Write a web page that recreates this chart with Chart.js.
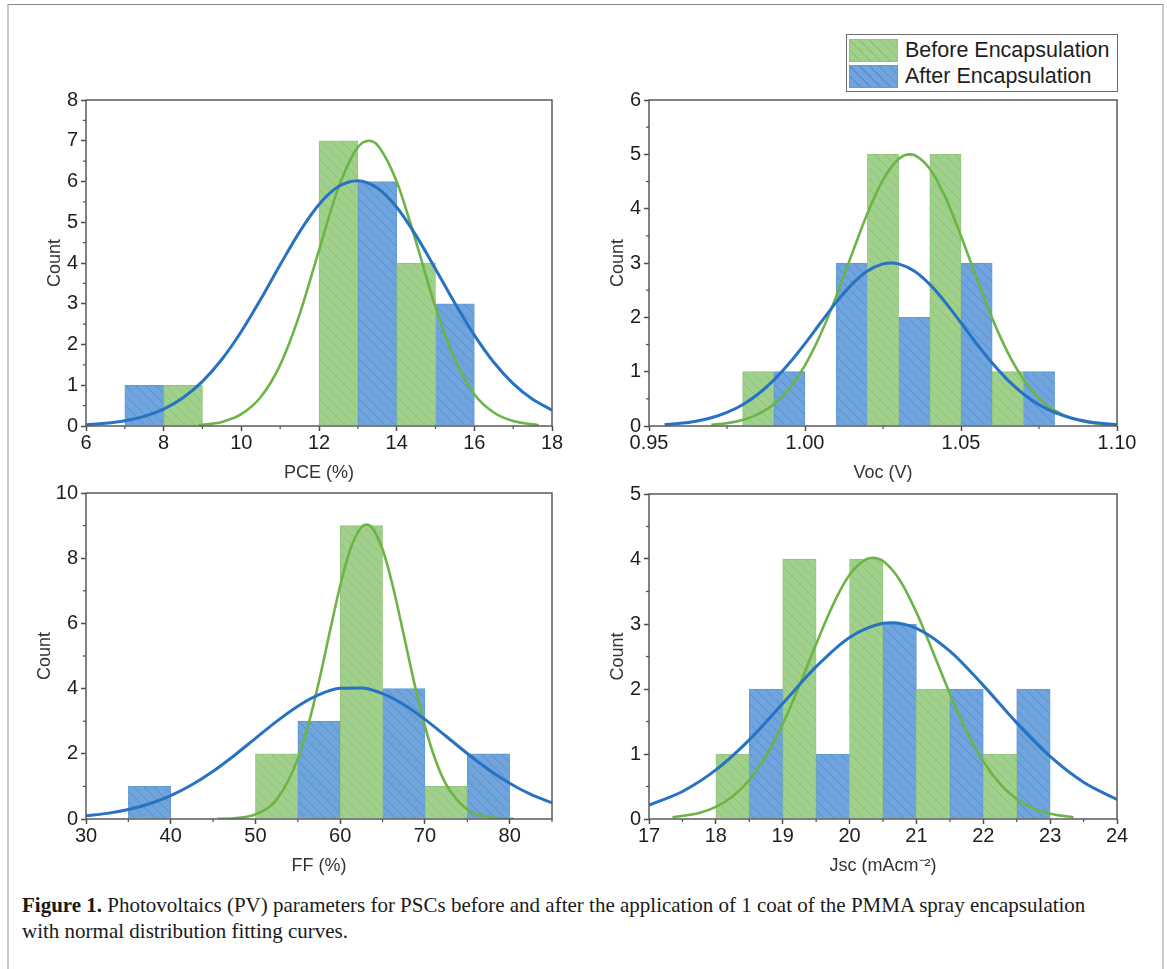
<!DOCTYPE html>
<html>
<head>
<meta charset="utf-8">
<script src="https://cdn.jsdelivr.net/npm/chart.js@4.4.1/dist/chart.umd.min.js"></script>
<style>
  html,body{margin:0;padding:0;background:#fff;}
  body{width:1167px;height:969px;position:relative;overflow:hidden;font-family:"Liberation Sans",Arial,sans-serif;}
  #frame{position:absolute;left:7px;top:4px;width:1153px;height:980px;border-top:1.5px solid #8a8a8a;border-left:2px solid #cacaca;border-right:2px solid #cacaca;}
  canvas{position:absolute;}
  #legend{position:absolute;left:846px;top:34px;width:272px;height:58px;box-sizing:border-box;border:1.5px solid #6e6e6e;background:#fff;}
  .row{position:absolute;left:2px;height:24px;display:flex;align-items:center;white-space:nowrap;font-size:21.5px;color:#1e1e1e;}
  .sw{display:inline-block;width:49px;height:23px;margin-right:7px;box-sizing:border-box;}
  .sw.g{background:repeating-linear-gradient(45deg,#8cc378 0 1px,#a0d08b 1px 7px);border:1px solid #92c67d;}
  .sw.b{background:repeating-linear-gradient(45deg,#5a8fcf 0 1px,#70a4dc 1px 7px);border:1px solid #6399d6;}
  #caption{position:absolute;left:22px;top:892px;font-family:"Liberation Serif","Times New Roman",serif;font-size:21px;line-height:26px;color:#1a1a1a;white-space:nowrap;}
</style>
</head>
<body>
<div id="frame"></div>
<canvas id="c1" width="560" height="404" style="left:20px;top:80px;"></canvas>
<canvas id="c2" width="570" height="404" style="left:590px;top:80px;"></canvas>
<canvas id="c3" width="560" height="404" style="left:20px;top:473px;"></canvas>
<canvas id="c4" width="570" height="403" style="left:590px;top:474px;"></canvas>
<div id="legend">
  <div class="row" style="top:3px;"><span class="sw g"></span><span>Before Encapsulation</span></div>
  <div class="row" style="top:29px;"><span class="sw b"></span><span>After Encapsulation</span></div>
</div>
<div id="caption"><b>Figure 1.</b> Photovoltaics (PV) parameters for PSCs before and after the application of 1 coat of the PMMA spray encapsulation<br>with normal distribution fitting curves.</div>
<script>
// ---------------- DATA ----------------
// PCE (%)
const pceBeforeBins = [8.5, 12.5, 14.5];
const pceBeforeCounts = [1, 7, 4];
const pceAfterBins = [7.5, 13.5, 15.5];
const pceAfterCounts = [1, 6, 3];
const pceBeforeFitX = [8.9, 9.5, 10, 10.5, 11, 11.5, 12, 12.5, 13, 13.28, 13.5, 14, 14.5, 15, 15.5, 16, 16.5, 17, 17.66];
const pceBeforeFitY = [0.02, 0.10, 0.29, 0.71, 1.50, 2.74, 4.31, 5.85, 6.84, 7.0, 6.90, 6.00, 4.51, 2.92, 1.63, 0.78, 0.33, 0.12, 0.02];
const pceAfterFitX = [6, 6.5, 7, 7.5, 8, 8.5, 9, 9.5, 10, 10.5, 11, 11.5, 12, 12.5, 13, 13.5, 14, 14.5, 15, 15.5, 16, 16.5, 17, 17.5, 18];
const pceAfterFitY = [0.031, 0.065, 0.127, 0.237, 0.416, 0.694, 1.094, 1.637, 2.319, 3.112, 3.956, 4.765, 5.437, 5.878, 6.02, 5.84, 5.367, 4.673, 3.855, 3.012, 2.230, 1.564, 1.039, 0.654, 0.390];
const pceXTicks = [6, 8, 10, 12, 14, 16, 18];
const pceXMinor = [7, 9, 11, 13, 15, 17];
const pceYTicks = [0, 1, 2, 3, 4, 5, 6, 7, 8];
const pceYMinor = [0.5, 1.5, 2.5, 3.5, 4.5, 5.5, 6.5, 7.5];

// Voc (V)
const vocBeforeBins = [0.985, 1.025, 1.045, 1.065];
const vocBeforeCounts = [1, 5, 5, 1];
const vocAfterBins = [0.995, 1.015, 1.035, 1.055, 1.075];
const vocAfterCounts = [1, 3, 2, 3, 1];
const vocBeforeFitX = [0.970, 0.975, 0.980, 0.985, 0.990, 0.995, 1.000, 1.005, 1.010, 1.015, 1.020, 1.025, 1.030, 1.0336, 1.035, 1.040, 1.045, 1.050, 1.055, 1.060, 1.065, 1.070, 1.075, 1.080, 1.085, 1.090, 1.097];
const vocBeforeFitY = [0.023, 0.052, 0.110, 0.217, 0.400, 0.691, 1.117, 1.688, 2.386, 3.159, 3.911, 4.530, 4.915, 5.000, 4.987, 4.735, 4.207, 3.498, 2.722, 1.981, 1.350, 0.860, 0.513, 0.287, 0.150, 0.073, 0.024];
const vocAfterFitX = [0.955, 0.960, 0.965, 0.970, 0.975, 0.980, 0.985, 0.990, 0.995, 1.000, 1.005, 1.010, 1.015, 1.020, 1.025, 1.0275, 1.030, 1.035, 1.040, 1.045, 1.050, 1.055, 1.060, 1.065, 1.070, 1.075, 1.080, 1.085, 1.090, 1.095, 1.100];
const vocAfterFitY = [0.026, 0.049, 0.089, 0.152, 0.250, 0.392, 0.589, 0.844, 1.158, 1.517, 1.900, 2.276, 2.606, 2.852, 2.983, 3.000, 2.983, 2.852, 2.606, 2.276, 1.900, 1.517, 1.158, 0.844, 0.589, 0.392, 0.250, 0.152, 0.089, 0.049, 0.026];
const vocXTicks = [0.95, 1.00, 1.05, 1.10];
const vocXMinor = [0.975, 1.025, 1.075];
const vocYTicks = [0, 1, 2, 3, 4, 5, 6];
const vocYMinor = [0.5, 1.5, 2.5, 3.5, 4.5, 5.5];

// FF (%)
const ffBeforeBins = [52.5, 62.5, 72.5];
const ffBeforeCounts = [2, 9, 1];
const ffAfterBins = [37.5, 57.5, 67.5, 77.5];
const ffAfterCounts = [1, 3, 4, 2];
const ffBeforeFitX = [45.5, 47.5, 50, 52.5, 55, 56.25, 57.5, 58.75, 60, 61.25, 62.5, 63.1, 63.75, 65, 66.25, 67.5, 68.75, 70, 71.25, 72.5, 75, 77.5, 80.5];
const ffBeforeFitY = [0.005, 0.025, 0.142, 0.594, 1.844, 2.90, 4.226, 5.711, 7.155, 8.312, 8.95, 9.03, 8.938, 8.274, 7.101, 5.651, 4.169, 2.851, 1.809, 1.063, 0.293, 0.060, 0.006];
const ffAfterFitX = [30, 32.5, 35, 37.5, 40, 42.5, 45, 47.5, 50, 52.5, 55, 57.5, 60, 62.5, 65, 67.5, 70, 72.5, 75, 77.5, 80, 82.5, 85];
const ffAfterFitY = [0.098, 0.173, 0.291, 0.468, 0.718, 1.049, 1.464, 1.949, 2.474, 2.996, 3.461, 3.815, 4.010, 4.021, 3.847, 3.511, 3.056, 2.538, 2.010, 1.519, 1.095, 0.753, 0.494];
const ffXTicks = [30, 40, 50, 60, 70, 80];
const ffXMinor = [35, 45, 55, 65, 75, 85];
const ffYTicks = [0, 2, 4, 6, 8, 10];
const ffYMinor = [1, 3, 5, 7, 9];

// Jsc (mA cm^-2)
const jscBeforeBins = [18.25, 19.25, 20.25, 21.25, 22.25];
const jscBeforeCounts = [1, 4, 4, 2, 1];
const jscAfterBins = [18.75, 19.75, 20.75, 21.75, 22.75];
const jscAfterCounts = [2, 1, 3, 2, 2];
const jscBeforeFitX = [17.35, 17.75, 18, 18.25, 18.5, 18.75, 19, 19.25, 19.5, 19.75, 20, 20.25, 20.35, 20.5, 20.75, 21, 21.25, 21.5, 21.75, 22, 22.25, 22.5, 22.75, 23, 23.35];
const jscBeforeFitY = [0.027, 0.094, 0.187, 0.347, 0.600, 0.970, 1.460, 2.053, 2.691, 3.291, 3.756, 3.998, 4.02, 3.970, 3.678, 3.179, 2.563, 1.928, 1.353, 0.886, 0.541, 0.308, 0.164, 0.081, 0.027];
const jscAfterFitX = [17, 17.5, 18, 18.5, 19, 19.5, 20, 20.5, 20.62, 21, 21.5, 22, 22.5, 23, 23.5, 24];
const jscAfterFitY = [0.214, 0.423, 0.755, 1.218, 1.777, 2.344, 2.794, 3.011, 3.020, 2.933, 2.583, 2.056, 1.479, 0.962, 0.565, 0.300];
const jscXTicks = [17, 18, 19, 20, 21, 22, 23, 24];
const jscXMinor = [17.5, 18.5, 19.5, 20.5, 21.5, 22.5, 23.5];
const jscYTicks = [0, 1, 2, 3, 4, 5];
const jscYMinor = [0.5, 1.5, 2.5, 3.5, 4.5];

// ---------------- STYLE ----------------
const GREEN_FILL = '#a0d08b', GREEN_HATCH = '#8cc378', GREEN_EDGE = '#92c67d', GREEN_LINE = '#6bb547';
const BLUE_FILL = '#70a4dc', BLUE_HATCH = '#5a8fcf', BLUE_EDGE = '#6399d6', BLUE_LINE = '#2872c3';

Chart.defaults.font.family = "'Liberation Sans', Arial, sans-serif";

function hatch(fill, line) {
  const c = document.createElement('canvas');
  c.width = 10; c.height = 10;
  const g = c.getContext('2d');
  g.fillStyle = fill; g.fillRect(0, 0, 10, 10);
  g.strokeStyle = line; g.lineWidth = 1;
  g.beginPath();
  g.moveTo(-2, -2); g.lineTo(12, 12);
  g.moveTo(-2, 8); g.lineTo(2, 12);
  g.moveTo(8, -2); g.lineTo(12, 2);
  g.stroke();
  return g.createPattern(c, 'repeat');
}
const greenPat = hatch(GREEN_FILL, GREEN_HATCH);
const bluePat = hatch(BLUE_FILL, BLUE_HATCH);

function xy(xs, ys) { return xs.map((x, i) => ({ x: x, y: ys[i] })); }

const frameTicks = {
  id: 'frameTicks',
  afterDraw(chart, args, opts) {
    const { ctx, chartArea: a, scales } = chart;
    ctx.save();
    ctx.strokeStyle = '#4d4d4d';
    ctx.lineWidth = 1.2;
    (opts.xMinor || []).forEach(v => {
      const p = scales.x.getPixelForValue(v);
      ctx.beginPath(); ctx.moveTo(p, a.bottom); ctx.lineTo(p, a.bottom + 3); ctx.stroke();
    });
    (opts.yMinor || []).forEach(v => {
      const p = scales.y.getPixelForValue(v);
      ctx.beginPath(); ctx.moveTo(a.left, p); ctx.lineTo(a.left - 3, p); ctx.stroke();
    });
    ctx.strokeStyle = '#5a5a5a';
    ctx.lineWidth = 1.5;
    ctx.strokeRect(a.left, a.top, a.right - a.left, a.bottom - a.top);
    ctx.restore();
  }
};

function makeChart(id, c) {
  return new Chart(document.getElementById(id), {
    type: 'bar',
    data: {
      datasets: [
        { type: 'line', label: 'After fit', data: xy(c.afX, c.afY), borderColor: BLUE_LINE, borderWidth: 3, pointRadius: 0, cubicInterpolationMode: 'monotone', fill: false, order: 0 },
        { type: 'line', label: 'Before fit', data: xy(c.bfX, c.bfY), borderColor: GREEN_LINE, borderWidth: 2.6, pointRadius: 0, cubicInterpolationMode: 'monotone', fill: false, order: 1 },
        { label: 'Before Encapsulation', data: xy(c.bX, c.bN), backgroundColor: greenPat, borderColor: GREEN_EDGE, borderWidth: 1, order: 2 },
        { label: 'After Encapsulation', data: xy(c.aX, c.aN), backgroundColor: bluePat, borderColor: BLUE_EDGE, borderWidth: 1, order: 2 }
      ]
    },
    options: {
      responsive: false,
      devicePixelRatio: 1,
      animation: false,
      grouped: false,
      barPercentage: 1,
      categoryPercentage: 1,
      layout: { padding: { left: c.padL, right: c.padR, top: 20, bottom: 0 } },
      plugins: {
        legend: { display: false },
        tooltip: { enabled: false },
        frameTicks: { xMinor: c.xMinor, yMinor: c.yMinor }
      },
      scales: {
        x: {
          type: 'linear', min: c.xMin, max: c.xMax, offset: false,
          afterBuildTicks: s => { s.ticks = c.xTicks.map(v => ({ value: v })); },
          afterFit: s => { s.height = 58; },
          grid: { offset: false, drawOnChartArea: false, drawTicks: true, tickLength: 5, tickColor: '#4d4d4d', tickWidth: 1.5 },
          border: { display: false },
          ticks: { font: { size: 20 }, color: '#1e1e1e', padding: 0, maxRotation: 0, autoSkip: false, callback: v => c.xFmt(v) },
          title: { display: true, text: c.xTitle, font: { size: 18 }, color: '#333', padding: { top: 0, bottom: 0 } }
        },
        y: {
          type: 'linear', min: 0, max: c.yMax,
          afterBuildTicks: s => { s.ticks = c.yTicks.map(v => ({ value: v })); },
          afterFit: s => { s.width = c.yW; },
          grid: { drawOnChartArea: false, drawTicks: true, tickLength: 5, tickColor: '#4d4d4d', tickWidth: 1.5 },
          border: { display: false },
          ticks: { font: { size: 20 }, color: '#1e1e1e', padding: 3, autoSkip: false, callback: v => String(v) },
          title: { display: true, text: 'Count', font: { size: 18 }, color: '#333', padding: { top: 0, bottom: 0 } }
        }
      }
    },
    plugins: [frameTicks]
  });
}

const intFmt = v => String(v);

makeChart('c1', {
  bX: pceBeforeBins, bN: pceBeforeCounts, aX: pceAfterBins, aN: pceAfterCounts,
  bfX: pceBeforeFitX, bfY: pceBeforeFitY, afX: pceAfterFitX, afY: pceAfterFitY,
  xMin: 6, xMax: 18, yMax: 8, xTicks: pceXTicks, xMinor: pceXMinor, yTicks: pceYTicks, yMinor: pceYMinor,
  xFmt: intFmt, xTitle: 'PCE (%)', yW: 42, padL: 24, padR: 28
});
makeChart('c2', {
  bX: vocBeforeBins, bN: vocBeforeCounts, aX: vocAfterBins, aN: vocAfterCounts,
  bfX: vocBeforeFitX, bfY: vocBeforeFitY, afX: vocAfterFitX, afY: vocAfterFitY,
  xMin: 0.95, xMax: 1.10, yMax: 6, xTicks: vocXTicks, xMinor: vocXMinor, yTicks: vocYTicks, yMinor: vocYMinor,
  xFmt: v => v.toFixed(2), xTitle: 'Voc (V)', yW: 42, padL: 17, padR: 43
});
makeChart('c3', {
  bX: ffBeforeBins, bN: ffBeforeCounts, aX: ffAfterBins, aN: ffAfterCounts,
  bfX: ffBeforeFitX, bfY: ffBeforeFitY, afX: ffAfterFitX, afY: ffAfterFitY,
  xMin: 30, xMax: 85, yMax: 10, xTicks: ffXTicks, xMinor: ffXMinor, yTicks: ffYTicks, yMinor: ffYMinor,
  xFmt: intFmt, xTitle: 'FF (%)', yW: 52, padL: 14, padR: 28
});
makeChart('c4', {
  bX: jscBeforeBins, bN: jscBeforeCounts, aX: jscAfterBins, aN: jscAfterCounts,
  bfX: jscBeforeFitX, bfY: jscBeforeFitY, afX: jscAfterFitX, afY: jscAfterFitY,
  xMin: 17, xMax: 24, yMax: 5, xTicks: jscXTicks, xMinor: jscXMinor, yTicks: jscYTicks, yMinor: jscYMinor,
  xFmt: intFmt, xTitle: 'Jsc (mAcm\u207B\u00B2)', yW: 42, padL: 17, padR: 43
});
</script>
</body>
</html>
